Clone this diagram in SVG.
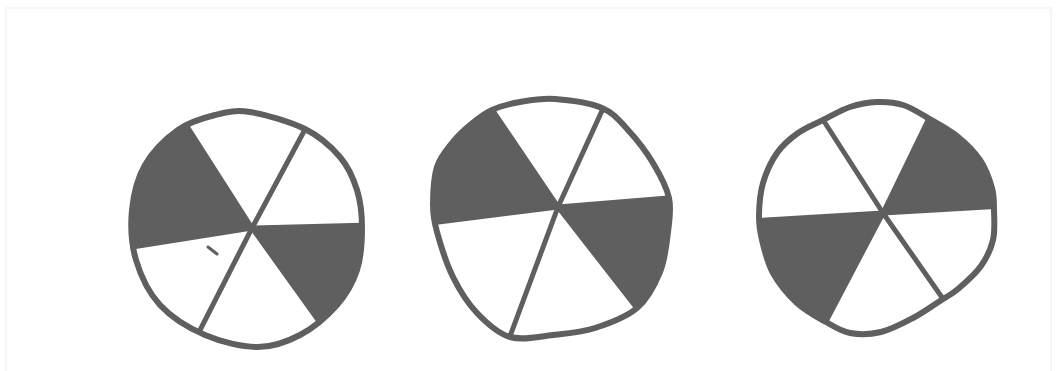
<svg xmlns="http://www.w3.org/2000/svg" width="1056" height="371" viewBox="0 0 1056 371">
<style>
.ink{fill:none;stroke:#5f5f5f;stroke-width:6;stroke-linecap:round;stroke-linejoin:round}
.spoke{fill:none;stroke:#5f5f5f;stroke-width:5;stroke-linecap:round;stroke-linejoin:round}
.shade{fill:#5f5f5f;stroke:none}
.frame{fill:none;stroke:#f4f4f4;stroke-width:1.5}
</style>
<defs>
<path id="o1" d="M250,112 C265,114.3 290,121.5 305,129 S331.3,146.8 340,157 S353.3,178.2 357,190 S362,214.7 362,228 S361.2,257.2 357,270 S346.5,294.2 337,305 S313.2,328 300,335 S273.8,347 258,347 S221.3,342 205,335 S171.5,317.5 160,305 S140.7,275.8 136,260 S130.5,225.8 132,210 S137.3,178.3 145,165 S166.3,138.3 178,130 S203,118 215,115 S235,109.7 250,112 Z"/>
<path id="o2" d="M492,110 C500.3,106.2 509.5,103.8 520,102 S541.3,98 555,99 S589.8,102.8 602,108 S619.5,120.8 628,130 S646.2,151.7 653,163 S666.5,186.5 669,198 S669.5,219.7 668,232 S665.2,259.3 660,272 S647.8,298.7 637,308 S609,323.5 595,328 S567.2,333.5 553,335 S522.7,340.7 510,337 S486.5,323 477,313 S459.7,290.5 453,277 S440.3,244 437,232 S433,215.8 433,205 S433.8,177.3 437,167 S446.5,150 452,143 S463.3,130.5 470,125 S483.7,113.8 492,110 Z"/>
<path id="o3" d="M823,120 C831.7,115.7 841,110 850,107 S868.2,102.3 877,102 S894.5,102.3 903,105 S919,112.8 928,118 S948.3,129 957,136 S974.2,151.3 980,160 S989.7,179.7 992,188 S993.8,201.3 994,210 S995.2,230.7 993,240 S986.8,257.8 981,266 S964.8,283.2 958,289 S947.5,296.2 940,301 S922.8,312.8 913,318 S891.5,329.5 881,332 S859.2,334.7 850,333 S834.8,327 826,322 S805.8,311.2 797,303 S778.8,283.5 773,273 S764.3,249.7 762,240 S758.8,224.5 759,215 S760,193.3 763,183 S771.2,161.3 777,153 S790.3,138.5 798,133 S814.3,124.3 823,120 Z"/>
<clipPath id="c1"><use href="#o1"/></clipPath>
<clipPath id="c2"><use href="#o2"/></clipPath>
<clipPath id="c3"><use href="#o3"/></clipPath>
</defs>
<path class="frame" d="M6,371 V8 H1051 V371"/>
<g id="wheel1">
<g clip-path="url(#c1)">
<polygon class="shade" points="252,228 162,88 90,85 88,255"/>
<polygon class="shade" points="252,228 396,224 400,365 347,361"/>
<polyline class="spoke" points="183,120 252,228 326,331"/>
<polyline class="spoke" points="309,122 252,228 196,338"/>
<polyline class="spoke" points="126,248 252,228 372,225"/>
</g>
<use href="#o1" class="ink"/>
<line class="spoke" x1="208" y1="247" x2="217" y2="254" style="stroke-width:3"/>
</g>
<g id="wheel2">
<g clip-path="url(#c2)">
<polygon class="shade" points="558,207 472,81 400,80 395,228"/>
<polygon class="shade" points="558,207 704,195 705,340 661,338"/>
<polyline class="spoke" points="487,102 558,207 643,316"/>
<polyline class="spoke" points="606,102 558,207 506,347"/>
<polyline class="spoke" points="423,224 558,207 680,197"/>
</g>
<use href="#o2" class="ink"/>
</g>
<g id="wheel3">
<g clip-path="url(#c3)">
<polygon class="shade" points="883,213 945,86 1030,85 1026,205"/>
<polygon class="shade" points="883,213 723,222 720,365 805,363"/>
<polyline class="spoke" points="818,112 883,213 948,306"/>
<polyline class="spoke" points="931,114 883,213 822,329"/>
<polyline class="spoke" points="750,221 883,213 1003,206"/>
</g>
<use href="#o3" class="ink"/>
</g>
</svg>
